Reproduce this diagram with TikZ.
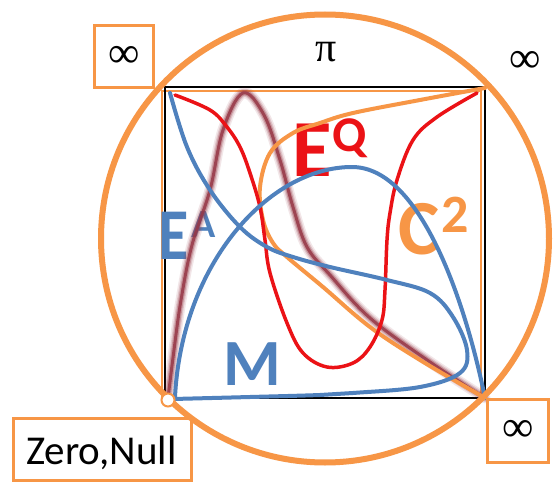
\documentclass[tikz,border=0pt]{standalone}
\usepackage{fontspec}
\setmainfont{Carlito}
\newfontfamily\grserif{Liberation Serif}
\definecolor{orng}{RGB}{247,150,70}
\definecolor{blu}{RGB}{79,129,189}
\definecolor{rd}{RGB}{235,18,22}
\definecolor{maroon}{RGB}{150,55,70}
\newcommand{\fsz}[1]{\fontsize{#1}{#1}\selectfont}
\begin{document}
\begin{tikzpicture}[x=1pt,y=-1pt,
  curve/.style={line width=4pt, line cap=round, line join=round},
  lab/.style={inner sep=0pt, anchor=base west},
  obox/.style={draw=orng, line width=3.5pt, inner sep=0pt},
  sym/.style={inner sep=0pt, font=\grserif}]
\fill[white] (0,0) rectangle (557,484);
\useasboundingbox (0,0) rectangle (557,484);

% frames
\draw[orng, line width=1.5pt] (162,91) rectangle (481,398);
\draw[black, line width=2.5pt] (165,87) rectangle (485,398);

% labels
\node[lab, text=blu, xscale=0.85] (ea) at (158,259) {\fsz{73}\bfseries E};
\node[lab, text=blu] (eas) at (191,237) {\fsz{40}\bfseries A};
\node[lab, text=rd] (eq) at (292.5,177) {\fsz{81}\bfseries E};
\node[lab, text=rd] (eqs) at (332.5,152) {\fsz{50}\bfseries Q};
\node[lab, text=orng] (c2) at (398,254) {\fsz{78}\bfseries C};
\node[lab, text=orng] (c2s) at (441,232) {\fsz{54}\bfseries 2};
\node[lab, text=blu] (m) at (223,385) {\fsz{66}\bfseries M};

% blurred maroon bell
\foreach \w/\o in {11/0.12, 8/0.2, 5.5/0.35, 3/0.85}{
\draw[maroon, line width=\w pt, opacity=\o, line cap=round, line join=round]
  plot[smooth, tension=0.6] coordinates {(168,398) (174,350) (181,300) (192,245) (210,190) (223,130) (243,93) (264,115) (280,160) (293,207) (307,247) (330,275) (370,318) (430,362) (485,398)};
}

% orange C2 curve
\draw[curve, orng] plot[smooth, tension=0.6] coordinates {(485,88) (420,100) (353,113) (320,123) (293,133) (270,153) (260,187) (263,220) (273,243) (287,257) (323,287) (370,327) (420,360) (485,398)};

% red curve
\draw[curve, rd, line width=3.5pt] plot[smooth, tension=0.6] coordinates {(175,95) (210,110) (227,127) (240,147) (250,173) (260,207) (265,240) (270,273) (287,323) (303,353) (327,367) (353,363) (370,347) (382,320) (385,290) (387,240) (390,213) (397,180) (413,140) (437,117) (477,93)};

% blue curve A
\draw[curve, blu] plot[smooth, tension=0.6] coordinates {(170,93) (187,147) (210,190) (240,227) (267,247) (293,257) (330,267) (387,280) (430,293) (453,317) (467,350) (460,373) (420,387) (353,393) (320,395) (250,397) (173,399)};

% blue curve B
\draw[curve, blu] (175,397) .. controls (182,262) and (270,167) .. (352,167)
                  .. controls (420,167) and (465,300) .. (485,398);

% boxes and symbols
\node[obox, minimum width=59pt, minimum height=62pt] (tl) at (124,56.5) {};
\node[sym] (tlinf) at (124,57) {\fsz{44}∞};
\node[obox, minimum width=61pt, minimum height=63pt] (br) at (518,431) {};
\node[sym] (brinf) at (518,431) {\fsz{44}∞};
\node[obox, minimum width=178pt, minimum height=62pt] (zn) at (102.5,449.5) {};
\node[lab] (zntxt) at (26,464) {\fsz{41}Zero,Null};
\node[sym] (trinf) at (525,62) {\fsz{44}∞};
\node[sym] (pi) at (326,52) {\fsz{42}π};

% big circle
\draw[orng, line width=6pt] (325,238.5) circle[radius=224];

% small circle at origin
\node[circle, draw=orng, fill=white, line width=2pt, minimum size=13pt, inner sep=0pt] (zero) at (168,400) {};
\end{tikzpicture}
\end{document}
